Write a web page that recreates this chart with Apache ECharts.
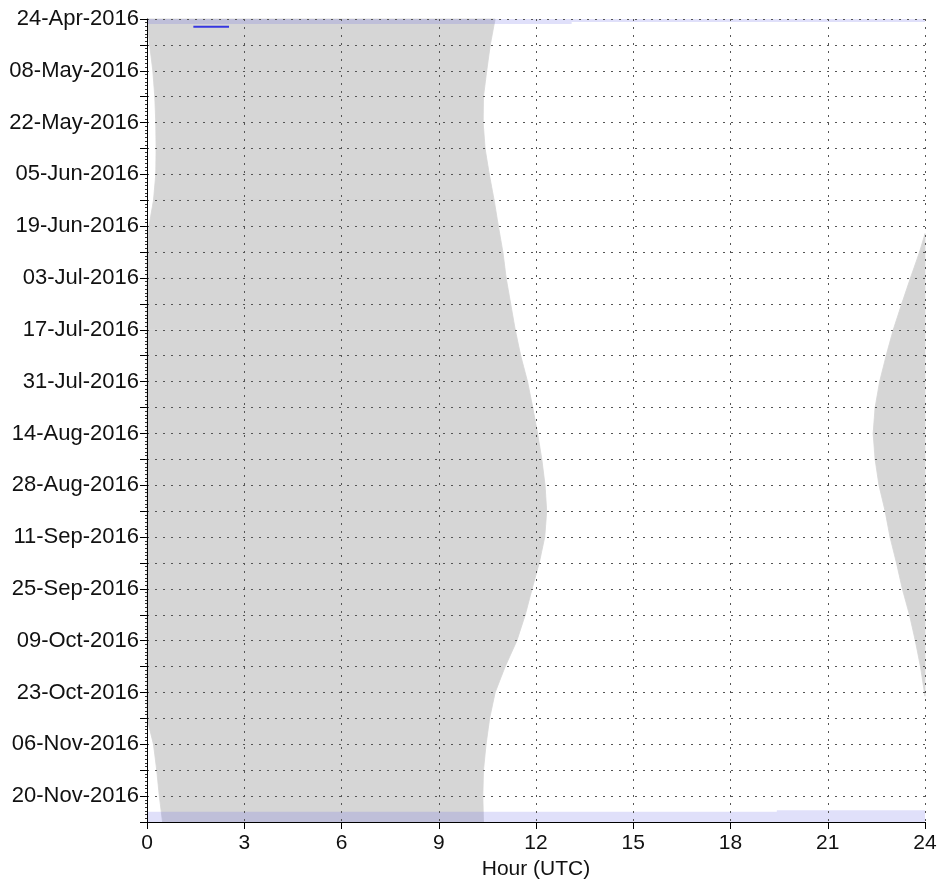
<!DOCTYPE html>
<html><head><meta charset="utf-8">
<script src="https://cdn.jsdelivr.net/npm/echarts@6/dist/echarts.min.js"></script>
<style>html,body{margin:0;padding:0;background:#fff}#c{width:939px;height:893px}</style>
</head><body><div id="c"></div>
<script>
// ---- data ----
const startDate = '2016-04-24';
const endDate = '2016-11-27';
const hourTicks = [0, 3, 6, 9, 12, 15, 18, 21, 24];

// weekly samples of the early-day shaded interval
const sampleDates = ['2016-04-24','2016-05-01','2016-05-08','2016-05-15','2016-05-22','2016-05-29','2016-06-05','2016-06-12',
  '2016-06-19','2016-06-26','2016-07-03','2016-07-10','2016-07-17','2016-07-24','2016-07-31','2016-08-07','2016-08-14',
  '2016-08-21','2016-08-28','2016-09-04','2016-09-11','2016-09-18','2016-09-25','2016-10-02','2016-10-09','2016-10-16',
  '2016-10-23','2016-10-30','2016-11-06','2016-11-13','2016-11-20','2016-11-27'];
const shadeStart = [0, 0.08, 0.18, 0.24, 0.27, 0.28, 0.27, 0.2, 0.06,
  0, 0, 0, 0, 0, 0, 0, 0, 0, 0, 0, 0, 0, 0, 0, 0, 0, 0, 0,
  0.2, 0.3, 0.38, 0.48];
const shadeEnd = [10.74, 10.59, 10.48, 10.38, 10.37, 10.43, 10.56, 10.71, 10.84, 10.98, 11.08, 11.22, 11.36, 11.53,
  11.74, 11.9, 12.05, 12.18, 12.28, 12.33, 12.27, 12.1, 11.88, 11.67, 11.41, 11.05, 10.74, 10.57, 10.46, 10.38, 10.36, 10.38];

// late-day shaded interval (runs to 24 h)
const lateDates = ['2016-06-21','2016-06-26','2016-07-03','2016-07-10','2016-07-17','2016-07-24','2016-07-31','2016-08-07',
  '2016-08-14','2016-08-21','2016-08-28','2016-09-04','2016-09-11','2016-09-18','2016-09-25','2016-10-02','2016-10-09',
  '2016-10-16','2016-10-24'];
const lateStart = [24, 23.83, 23.55, 23.28, 23.02, 22.8, 22.6, 22.46, 22.4, 22.46, 22.58, 22.77, 22.92, 23.12, 23.3,
  23.52, 23.7, 23.86, 24];

// light blue coverage bands
const bandFrom = ['2016-04-24T00:00','2016-04-24T00:00','2016-11-24T05:00','2016-11-23T19:00'];
const bandTo = ['2016-04-25T08:00','2016-04-24T19:00','2016-11-27T00:00','2016-11-27T00:00'];
const bandHourFrom = [0, 13.1, 0, 19.43];
const bandHourTo = [13.1, 24, 19.43, 24];

// short blue marker
const markDate = '2016-04-26T02:00';
const markHours = [1.43, 2.53];

// ---- helpers ----
const MONTHS = ['Jan','Feb','Mar','Apr','May','Jun','Jul','Aug','Sep','Oct','Nov','Dec'];
function parse(s) { return Date.parse(s.length === 10 ? s + 'T00:00:00Z' : s + ':00Z'); }
const T0 = parse(startDate);
function dayOf(s) { return (parse(s) - T0) / 864e5; }
function fmtDay(v) {
  const d = new Date(T0 + Math.round(v) * 864e5);
  const dd = String(d.getUTCDate()).padStart(2, '0');
  return dd + '-' + MONTHS[d.getUTCMonth()] + '-' + d.getUTCFullYear();
}
const maxDay = dayOf(endDate);
const GRAY = '#d6d6d6';
const FONT = 'Arial';

const earlyData = [];
for (let i = 0; i < sampleDates.length - 1; i++) {
  earlyData.push([dayOf(sampleDates[i]), dayOf(sampleDates[i + 1]), shadeStart[i], shadeStart[i + 1], shadeEnd[i], shadeEnd[i + 1]]);
}
const lateData = [];
for (let i = 0; i < lateDates.length - 1; i++) {
  lateData.push([dayOf(lateDates[i]), dayOf(lateDates[i + 1]), lateStart[i], lateStart[i + 1], 24, 24]);
}
const bandData = bandFrom.map((f, i) => [dayOf(f), dayOf(bandTo[i]), bandHourFrom[i], bandHourTo[i]]);

function trapRender(params, api) {
  const d0 = api.value(0), d1 = api.value(1);
  const pts = [api.coord([api.value(2), d0]), api.coord([api.value(4), d0]),
               api.coord([api.value(5), d1]), api.coord([api.value(3), d1])];
  return { type: 'polygon', shape: { points: pts }, style: { fill: GRAY, stroke: GRAY, lineWidth: 0.8 } };
}
function bandRender(params, api) {
  const p0 = api.coord([api.value(2), api.value(0)]);
  const p1 = api.coord([api.value(3), api.value(1)]);
  return { type: 'rect', shape: { x: p0[0], y: p0[1], width: p1[0] - p0[0], height: p1[1] - p0[1] },
           style: { fill: 'rgba(100,100,230,0.2)' } };
}

const chart = echarts.init(document.getElementById('c'), null, { renderer: 'canvas' });
chart.setOption({
  animation: false,
  backgroundColor: '#fff',
  grid: { left: 147, right: 14, top: 19, bottom: 71, outerBoundsMode: 'none' },
  xAxis: {
    type: 'value', min: hourTicks[0], max: hourTicks[hourTicks.length - 1], interval: 3,
    name: 'Hour (UTC)', nameLocation: 'middle', nameGap: 33,
    nameTextStyle: { color: '#111', fontSize: 21, fontFamily: FONT },
    axisLine: { show: true, onZero: false, lineStyle: { color: '#000', width: 1 } },
    axisTick: { show: true, length: 7, lineStyle: { color: '#000' } },
    axisLabel: { color: '#111', fontSize: 21, fontFamily: FONT, margin: 11 },
    splitLine: { show: true, lineStyle: { color: '#555', width: 1, type: [2, 6] } }
  },
  yAxis: {
    type: 'value', inverse: true, min: 0, max: maxDay, interval: 7,
    axisLine: { show: true, onZero: false, lineStyle: { color: '#000', width: 1 } },
    axisTick: { show: true, length: 7, lineStyle: { color: '#000' } },
    minorTick: { show: true, splitNumber: 7, length: 2, lineStyle: { color: '#333' } },
    axisLabel: { color: '#111', fontSize: 22, fontFamily: FONT, margin: 8,
      formatter: v => (Math.round(v) % 14 === 0 ? fmtDay(v) : '') },
    splitLine: { show: true, lineStyle: { color: '#555', width: 1, type: [2, 6] } }
  },
  series: [
    { type: 'custom', z: -3, renderItem: trapRender, data: earlyData,
      encode: { x: [2, 3, 4, 5], y: [0, 1] }, silent: true },
    { type: 'custom', z: -3, renderItem: trapRender, data: lateData,
      encode: { x: [2, 3, 4, 5], y: [0, 1] }, silent: true },
    { type: 'custom', z: -2, renderItem: bandRender, data: bandData,
      encode: { x: [2, 3], y: [0, 1] }, silent: true },
    { type: 'line', z: -1, showSymbol: false, silent: true,
      lineStyle: { color: '#3636e0', width: 2 },
      data: markHours.map(h => [h, dayOf(markDate)]) }
  ]
});
</script></body></html>
